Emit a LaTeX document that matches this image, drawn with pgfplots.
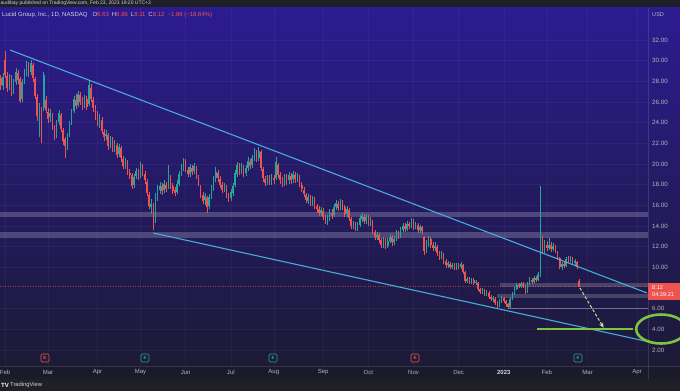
\documentclass[border=0pt]{standalone}
\usepackage{pgfplots}
\pgfplotsset{compat=1.18}
\usepackage{pgfplotstable}
\usepackage{fontspec}
\setmainfont{Liberation Sans}
\usetikzlibrary{arrows.meta}
\definecolor{tvbar}{HTML}{1F1F27}
\definecolor{tvrow}{HTML}{1B1A2B}
\definecolor{bgtop}{HTML}{2C1B91}
\definecolor{bgmid}{HTML}{261C6E}
\definecolor{bgbot}{HTML}{1C1A36}
\definecolor{tvtext}{HTML}{B2B5BE}
\definecolor{tvwhite}{HTML}{D1D4DC}
\definecolor{tvup}{HTML}{26A69A}
\definecolor{tvdown}{HTML}{EF5350}
\definecolor{trend}{HTML}{46ACDC}
\definecolor{lime}{HTML}{7CC540}
\definecolor{arrowc}{HTML}{C8E08A}

\pgfplotstableread{
i o h l c
-2 28.3 28.6 27.2 27.6
-1 27.5 28.8 27.2 28.4
0 30.1 30.9 28.3 28.6
1 28.5 28.9 27.0 27.4
2 27.5 28.7 27.2 28.4
3 28.3 28.6 26.6 27.0
4 27.1 28.2 26.8 27.8
5 27.9 29.3 27.6 28.9
6 28.8 29.1 27.7 28.1
7 28.2 28.4 25.9 26.1
8 26.3 28.2 26.0 27.9
9 28.0 29.2 27.7 28.7
10 28.8 30.0 28.5 29.6
11 29.5 29.9 28.4 28.8
12 28.9 30.1 28.6 29.8
13 29.6 29.8 27.9 28.3
14 28.2 28.4 26.3 26.6
15 26.5 26.8 24.2 24.6
16 24.5 25.9 22.6 25.3
17 25.2 25.5 22.0 24.2
18 25.4 28.9 25.1 28.6
19 26.2 26.6 24.9 25.2
20 25.0 25.4 24.0 24.4
21 24.5 25.3 24.1 24.9
22 24.7 24.9 23.3 23.6
23 23.5 23.8 22.3 22.6
24 22.8 24.3 22.5 24.0
25 24.1 25.2 23.8 24.9
26 24.7 24.9 23.1 23.4
27 23.3 23.5 21.8 22.2
28 22.4 22.6 20.6 21.7
29 21.8 23.0 21.4 22.7
30 22.8 24.2 22.6 23.9
31 24.0 25.3 23.8 25.0
32 25.1 26.6 24.9 26.3
33 26.2 26.8 25.3 25.6
34 25.7 27.1 25.5 26.8
35 26.7 27.0 25.7 26.0
36 26.1 26.5 25.2 25.6
37 25.7 26.7 25.4 26.4
38 26.3 26.6 25.2 25.5
39 25.8 28.0 25.6 27.6
40 27.4 27.7 26.0 26.3
41 26.2 26.5 25.0 25.4
42 25.5 25.7 24.3 24.6
43 24.8 25.1 23.7 24.0
44 24.0 24.8 23.5 24.5
45 24.3 24.5 22.9 23.2
46 23.1 23.4 22.2 22.6
47 22.7 23.3 22.3 22.9
48 22.8 23.0 21.4 21.7
49 21.8 22.7 21.5 22.4
50 22.3 22.6 21.2 21.5
51 21.6 22.3 21.2 21.9
52 21.8 22.0 20.6 20.9
53 21.0 21.9 20.7 21.6
54 21.5 21.7 20.2 20.6
55 20.5 20.8 19.5 19.8
56 19.9 20.6 19.5 20.3
57 20.2 20.4 18.9 19.2
58 19.1 19.5 18.5 18.9
59 18.9 19.1 17.6 17.9
60 18.0 19.0 17.7 18.7
61 18.8 19.6 18.5 19.3
62 19.2 19.5 18.4 18.7
63 18.8 20.2 18.6 19.8
64 19.7 20.0 18.8 19.1
65 19.0 19.3 18.1 18.4
66 18.3 18.5 16.9 17.2
67 17.0 17.3 15.6 15.9
68 15.8 16.6 15.2 16.1
69 16.0 16.2 13.6 14.5
70 14.6 17.2 14.3 16.9
71 16.8 18.0 16.4 17.6
72 17.5 18.3 17.1 17.9
73 17.9 18.2 17.0 17.4
74 17.5 18.4 17.2 18.1
75 18.0 18.3 17.3 17.6
76 17.8 19.9 17.6 18.8
77 18.6 18.9 17.6 17.9
78 17.9 18.2 17.1 17.4
79 17.5 17.8 16.9 17.2
80 17.3 18.4 17.1 18.1
81 18.1 19.3 17.9 19.0
82 19.0 20.0 18.8 19.6
83 19.6 20.6 19.3 20.3
84 20.2 20.5 19.2 19.5
85 19.4 19.7 18.7 19.0
86 19.0 20.0 18.7 19.7
87 19.6 19.9 18.9 19.2
88 19.3 20.1 19.0 19.8
89 19.6 19.8 18.5 18.8
90 18.7 18.9 17.9 18.2
91 17.9 18.0 16.7 17.0
92 17.0 17.3 16.1 16.4
93 16.5 17.2 16.0 16.9
94 16.7 16.9 15.3 15.8
95 15.9 17.1 15.6 16.8
96 16.9 18.0 16.6 17.7
97 17.6 18.8 17.4 18.5
98 18.6 19.7 18.3 19.2
99 19.1 19.4 18.3 18.6
100 18.5 18.8 17.7 18.0
101 18.0 18.3 17.2 17.5
102 17.6 18.2 17.3 17.9
103 17.8 18.0 16.7 17.0
104 16.9 17.2 16.3 16.6
105 16.7 17.6 16.4 17.3
106 17.2 18.2 16.9 17.9
107 18.0 19.4 17.8 19.1
108 19.0 20.2 18.7 19.9
109 19.8 20.1 18.9 19.2
110 19.3 20.1 19.0 19.8
111 19.7 19.9 18.7 19.0
112 19.1 19.9 18.8 19.6
113 19.6 20.7 19.3 20.3
114 20.2 20.5 19.5 19.8
115 19.9 20.9 19.6 20.6
116 20.6 21.5 20.3 21.2
117 21.1 21.4 20.2 20.5
118 20.6 21.6 20.3 21.3
119 21.2 21.4 19.3 19.6
120 19.5 19.7 18.3 18.6
121 18.5 18.8 17.9 18.2
122 18.3 18.9 18.0 18.6
123 18.6 18.9 18.0 18.3
124 18.3 19.0 18.0 18.7
125 18.6 18.9 18.1 18.4
126 18.6 20.7 18.4 20.2
127 19.9 20.1 18.6 18.9
128 18.9 19.2 18.1 18.4
129 18.4 18.7 17.8 18.1
130 18.2 19.0 17.9 18.7
131 18.7 19.0 18.0 18.3
132 18.4 19.2 18.1 18.9
133 18.8 19.1 18.1 18.4
134 18.5 19.3 18.2 19.0
135 18.9 19.2 18.2 18.5
136 18.5 19.1 18.3 18.8
137 18.7 18.9 17.8 18.1
138 18.0 18.3 17.3 17.6
139 17.5 17.8 16.8 17.1
140 17.0 17.2 16.2 16.5
141 16.4 17.1 16.1 16.8
142 16.7 17.0 15.9 16.2
143 16.2 16.9 15.9 16.6
144 16.5 16.8 15.6 15.9
145 15.9 16.1 15.3 15.6
146 15.6 15.9 15.0 15.3
147 15.3 15.8 15.0 15.5
148 15.4 15.7 14.6 14.9
149 14.9 15.1 14.2 14.5
150 14.5 15.1 14.1 14.8
151 14.8 15.6 14.5 15.3
152 15.3 15.6 14.7 15.0
153 15.1 16.1 14.9 15.8
154 15.8 16.5 15.5 16.2
155 16.1 16.4 15.4 15.7
156 15.8 16.6 15.5 16.3
157 16.2 16.5 15.5 15.8
158 15.8 16.0 14.9 15.2
159 15.2 15.9 14.9 15.6
160 15.5 15.7 14.5 14.8
161 14.7 14.9 13.7 14.0
162 14.0 14.5 13.7 14.2
163 14.2 14.4 13.5 13.8
164 13.8 14.4 13.5 14.1
165 14.1 15.1 13.9 14.8
166 14.7 15.3 14.4 15.0
167 14.9 15.2 14.2 14.5
168 14.5 15.2 14.2 14.9
169 14.9 15.1 14.0 14.3
170 14.3 14.9 14.0 14.6
171 14.5 14.6 13.2 13.5
172 13.4 13.6 12.6 12.9
173 12.9 13.4 12.6 13.1
174 13.1 13.3 12.3 12.6
175 12.6 12.8 11.9 12.2
176 12.2 12.9 11.9 12.6
177 12.6 12.8 11.8 12.1
178 12.1 12.8 11.9 12.5
179 12.5 13.2 12.3 12.9
180 12.9 13.1 12.1 12.4
181 12.4 13.0 12.2 12.7
182 12.7 13.6 12.5 13.3
183 13.3 13.5 12.7 13.0
184 13.0 13.9 12.8 13.6
185 13.6 14.3 13.4 14.0
186 14.0 14.3 13.4 13.7
187 13.7 14.5 13.5 14.2
188 14.2 14.4 13.7 14.0
189 14.0 14.8 13.8 14.5
190 14.5 14.7 13.6 13.9
191 13.9 14.4 13.7 14.1
192 14.1 14.3 13.3 13.6
193 13.6 14.1 13.3 13.9
194 13.9 14.0 13.2 13.5
195 12.9 13.0 11.2 11.6
196 11.6 12.6 11.4 12.3
197 12.3 13.0 12.0 12.8
198 12.7 12.9 11.9 12.2
199 12.2 12.4 11.6 11.9
200 11.9 12.4 11.6 12.1
201 12.0 12.2 11.1 11.4
202 11.4 11.6 10.7 11.0
203 11.0 11.6 10.8 11.3
204 11.2 11.4 10.3 10.6
205 10.6 10.8 9.9 10.2
206 10.2 10.6 9.9 10.4
207 10.3 10.5 9.8 10.0
208 10.0 10.4 9.8 10.2
209 10.2 10.4 9.7 9.9
210 9.9 10.4 9.7 10.2
211 10.2 10.4 9.8 10.0
212 10.0 10.5 9.8 10.3
213 10.2 10.3 9.3 9.5
214 9.5 9.6 8.5 8.7
215 8.7 9.1 8.5 8.9
216 8.9 9.1 8.4 8.6
217 8.6 9.0 8.4 8.8
218 8.8 9.0 8.3 8.5
219 8.5 8.8 8.3 8.6
220 8.5 8.6 7.7 7.9
221 7.9 8.0 7.4 7.6
222 7.6 8.0 7.4 7.8
223 7.7 7.9 7.2 7.4
224 7.4 7.8 7.2 7.6
225 7.5 7.7 6.9 7.1
226 7.1 7.3 6.7 6.9
227 6.9 7.2 6.6 7.0
228 6.9 7.1 6.3 6.5
229 6.5 6.7 6.1 6.3
230 6.3 6.9 6.2 6.7
231 6.7 7.2 6.5 7.0
232 7.0 7.1 6.5 6.7
233 6.7 6.8 6.2 6.4
234 6.4 6.5 6.0 6.2
235 6.2 7.1 6.1 6.9
236 6.9 7.6 6.8 7.4
237 7.4 8.1 7.3 7.9
238 7.9 8.5 7.8 8.3
239 8.3 8.5 8.0 8.2
240 8.2 8.6 8.0 8.4
241 8.4 8.6 8.0 8.2
242 8.2 8.3 7.4 7.6
243 7.6 8.6 7.5 8.4
244 8.4 9.1 8.3 8.9
245 8.8 9.0 8.4 8.6
246 8.6 9.2 8.5 9.0
247 9.0 9.2 8.6 8.8
248 8.8 9.5 8.7 9.3
249 9.2 17.9 9.1 12.9
250 12.7 13.0 11.3 11.6
251 11.6 12.6 11.4 12.3
252 12.2 12.5 11.6 11.9
253 11.9 12.8 11.7 12.2
254 12.2 12.4 11.5 11.8
255 11.8 12.3 11.6 12.1
256 12.0 12.2 11.4 11.6
257 11.5 11.6 10.7 10.9
258 10.9 11.0 9.8 10.0
259 10.0 10.5 9.7 10.3
260 10.3 10.5 9.9 10.1
261 10.1 11.0 10.0 10.8
262 10.8 11.1 10.4 10.7
263 10.7 11.1 10.5 10.9
264 10.9 11.0 10.2 10.4
265 10.4 10.8 10.2 10.6
266 10.5 10.6 9.8 9.98
267 8.63 8.86 8.11 8.12
}\candles

\begin{document}
\begin{tikzpicture}
\useasboundingbox (0pt,0pt) rectangle (680pt,391pt);
\fill[tvbar] (0pt,0pt) rectangle (680pt,391pt);
\shade[top color=bgtop, middle color=bgmid, bottom color=bgbot] (0pt,25pt) rectangle (680pt,383pt);
\fill[tvrow] (0pt,12pt) rectangle (680pt,25pt);
\draw[white, opacity=0.12, line width=0.5pt] (0pt,25pt) -- (680pt,25pt);
\draw[white, opacity=0.12, line width=0.5pt] (648pt,12pt) -- (648pt,383pt);

\begin{axis}[
  at={(0pt,25pt)}, anchor=south west,
  scale only axis, width=648pt, height=358pt,
  xmin=-2.33, xmax=299.07, ymin=0.44, ymax=35.1,
  clip=false,
  axis line style={draw=none},
  major tick length=0pt,
  tick style={draw=none},
  grid=major, grid style={white, opacity=0.045, line width=0.5pt},
  ytick={2,4,6,10,12,14,16,18,20,22,24,26,28,30,32},
  yticklabel pos=right,
  yticklabel={\pgfmathprintnumber[fixed,fixed zerofill,precision=2,assume math mode=true]{\tick}},
  yticklabel style={anchor=west, inner sep=0pt, xshift=4pt, font=\fontsize{6.2}{7}\selectfont, text=tvtext},
  xtick={0,20,43,63,84,105,125,148,169,190,211,232,252,271,294},
  xticklabels={Feb,Mar,Apr,May,Jun,Jul,Aug,Sep,Oct,Nov,Dec,\textbf{\textcolor{tvwhite}{2023}},Feb,Mar,Apr},
  xticklabel style={anchor=center, inner sep=0pt, yshift=-6.5pt, font=\fontsize{6}{7}\selectfont, text=tvtext},
]
% horizontal zones
\addplot[draw=none, fill=white, fill opacity=0.2] coordinates {(-2.33,14.85) (299.07,14.85) (299.07,15.35) (-2.33,15.35)} -- cycle;
\addplot[draw=none, fill=white, fill opacity=0.2] coordinates {(-2.33,12.85) (299.07,12.85) (299.07,13.45) (-2.33,13.45)} -- cycle;
\addplot[draw=none, fill=white, fill opacity=0.18] coordinates {(230,8.12) (299.07,8.12) (299.07,8.5) (230,8.5)} -- cycle;
\addplot[draw=none, fill=white, fill opacity=0.18] coordinates {(229,7.03) (299.07,7.03) (299.07,7.43) (229,7.43)} -- cycle;
\addplot[white, opacity=0.35, line width=0.7pt] coordinates {(234,6.05) (299.07,6.05)};
% last price line
\addplot[tvdown, opacity=0.6, line width=0.5pt, dash pattern=on 1pt off 1.5pt] coordinates {(-2.33,8.12) (299.07,8.12)};

% wicks
\addplot[draw=none, mark=none, forget plot,
  error bars/.cd, y dir=plus, y explicit, error mark=none,
  error bar style={draw=tvup, line width=0.5pt, solid}]
  table[x=i, y expr={\thisrow{c}>=\thisrow{o} ? \thisrow{l} : nan},
        y error plus expr={\thisrow{h}-\thisrow{l}}] {\candles};
\addplot[draw=none, mark=none, forget plot,
  error bars/.cd, y dir=plus, y explicit, error mark=none,
  error bar style={draw=tvdown, line width=0.5pt, solid}]
  table[x=i, y expr={\thisrow{c}<\thisrow{o} ? \thisrow{l} : nan},
        y error plus expr={\thisrow{h}-\thisrow{l}}] {\candles};
% bodies
\addplot[draw=none, mark=none, forget plot,
  error bars/.cd, y dir=plus, y explicit, error mark=none,
  error bar style={draw=tvup, line width=1.6pt, solid}]
  table[x=i, y expr={\thisrow{c}>=\thisrow{o} ? \thisrow{o} : nan},
        y error plus expr={max(\thisrow{c}-\thisrow{o},0.08)}] {\candles};
\addplot[draw=none, mark=none, forget plot,
  error bars/.cd, y dir=plus, y explicit, error mark=none,
  error bar style={draw=tvdown, line width=1.6pt, solid}]
  table[x=i, y expr={\thisrow{c}<\thisrow{o} ? \thisrow{c} : nan},
        y error plus expr={max(\thisrow{o}-\thisrow{c},0.08)}] {\candles};

% trend lines
\addplot[trend, line width=1.1pt] coordinates {(2.33,31.03) (298.6,7.51)};
\addplot[trend, line width=1.1pt] coordinates {(68.84,13.32) (297.7,2.86)};
% target annotation
\addplot[lime, line width=1.8pt] coordinates {(247.4,4.02) (292.1,4.02)};
\addplot[arrowc, line width=1pt, dash pattern=on 3pt off 2pt, -{Stealth[length=5pt,width=4.5pt]}] coordinates {(267.4,8.0) (278.4,4.15)};
\draw[lime, line width=2.6pt] (axis cs:305.2,4.02) ellipse [x radius=25pt, y radius=14.5pt];
\end{axis}

% earnings markers
\foreach \ex/\col in {45/tvdown,145/tvup,273/tvup,415/tvdown,578/tvup}{
  \node[draw=\col, fill=bgbot, line width=0.6pt, rounded corners=1.2pt, minimum size=8pt, inner sep=0pt,
        text=\col, font=\fontsize{4.5}{4.5}\selectfont\bfseries] at (\ex pt,33pt) {E};
}

% price label
\fill[tvdown] (648pt,91pt) rectangle (680pt,108pt);
\node[anchor=west, inner sep=0pt, text=white, font=\fontsize{5.6}{6}\selectfont] at (652pt,103.6pt) {8.12};
\node[anchor=west, inner sep=0pt, text=white, font=\fontsize{5.6}{6}\selectfont] at (652pt,96pt) {04:39:21};
\node[anchor=west, inner sep=0pt, text=tvtext, font=\fontsize{5.6}{6}\selectfont] at (652pt,376pt) {USD};

% header
\node[anchor=west, inner sep=0pt, text=tvwhite, font=\fontsize{5}{6}\selectfont] at (0.5pt,387.4pt) {audibay published on TradingView.com, Feb 23, 2023 19:20 UTC+3};
\node[anchor=west, inner sep=0pt, text=tvwhite, font=\fontsize{6}{6}\selectfont] at (2pt,376pt)
  {Lucid Group, Inc., 1D, NASDAQ\hspace{5pt}O\textcolor{tvdown}{8.63}\hspace{3pt}H\textcolor{tvdown}{8.86}\hspace{3pt}L\textcolor{tvdown}{8.11}\hspace{3pt}C\textcolor{tvdown}{8.12}\hspace{3pt}\textcolor{tvdown}{−1.86 (−18.64\%)}};

% footer
\node[anchor=west, inner sep=0pt, text=white, font=\fontsize{6}{6}\selectfont\bfseries] at (1pt,5.8pt) {TV};
\node[anchor=west, inner sep=0pt, text=tvwhite, font=\fontsize{5.8}{6}\selectfont] at (10pt,5.8pt) {TradingView};
\end{tikzpicture}
\end{document}
